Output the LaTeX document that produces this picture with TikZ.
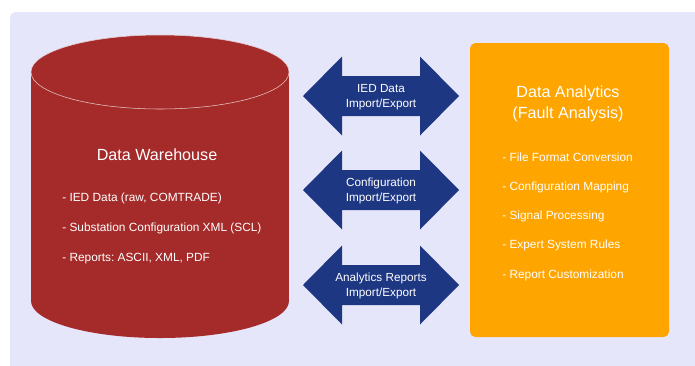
\documentclass[tikz,border=0pt]{standalone}
\usepackage{fontspec}
\setmainfont{Liberation Sans}
\frenchspacing

\definecolor{panelbg}{HTML}{E6E6FA}
\definecolor{whred}{HTML}{A52A2A}
\definecolor{ionavy}{HTML}{1E3783}
\definecolor{daorange}{HTML}{FFA500}

\tikzset{
    titletext/.style={text=white, font=\fontsize{12.1}{15.5}\selectfont, align=center},
    itemtext/.style={text=white, font=\fontsize{8.9}{11}\selectfont, anchor=west, inner sep=0pt},
    iotext/.style={text=white, font=\fontsize{8.8}{11.2}\selectfont, align=center},
}

\begin{document}
\begin{tikzpicture}[x=0.75pt, y=-0.75pt]
                % 背景
                \clip (0, 0) rectangle (695, 365);
                \fill[panelbg, rounded corners=4pt] (10, 12) rectangle (720, 390);

                % 円柱 (Data Warehouse)
                \fill[whred] (31, 72) rectangle (289, 301);
                \fill[whred] (160, 301) ellipse [x radius=129, y radius=37];
                \filldraw[whred, draw=white!75!whred, thin] (160, 72) ellipse [x radius=129, y radius=37];

                \node[titletext] (dwtitle) at (157, 155) {Data Warehouse};
                \foreach \y / \txt [count=\i] in {198.5/{IED Data (raw, COMTRADE)},
                        228.5/{Substation Configuration XML (SCL)},
                        258.5/{Reports: ASCII, XML, PDF}} {
                    \node[itemtext] (dwitem\i) at (62, \y) {- \txt};
                }

                % 両矢印
                \foreach \cy / \txt [count=\i] in {96/{IED Data}, 190/{Configuration}, 285/{Analytics Reports}} {
                    \fill[ionavy] (303, \cy) -- (342, \cy-39.5) -- (342, \cy-20) -- (420, \cy-20)
                        -- (420, \cy-39.5) -- (459, \cy) -- (420, \cy+39.5) -- (420, \cy+20)
                        -- (342, \cy+20) -- (342, \cy+39.5) -- cycle;
                    \node[iotext] (io\i) at (381, \cy+1) {\txt\\Import/Export};
                }

                % 箱 (Data Analytics)
                \fill[daorange, rounded corners=4pt] (470, 43) rectangle (669, 337);

                \node[titletext, font=\fontsize{12.1}{15.8}\selectfont] (datitle) at (568, 103.5) {Data Analytics\\(Fault Analysis)};
                \foreach \y / \txt [count=\i] in {157.5/{File Format Conversion}, 187.5/{Configuration Mapping},
                        216.5/{Signal Processing}, 245.5/{Expert System Rules}, 275.5/{Report Customization}} {
                    \node[itemtext] (daitem\i) at (502, \y) {- \txt};
                }

            \end{tikzpicture}
\end{document}
